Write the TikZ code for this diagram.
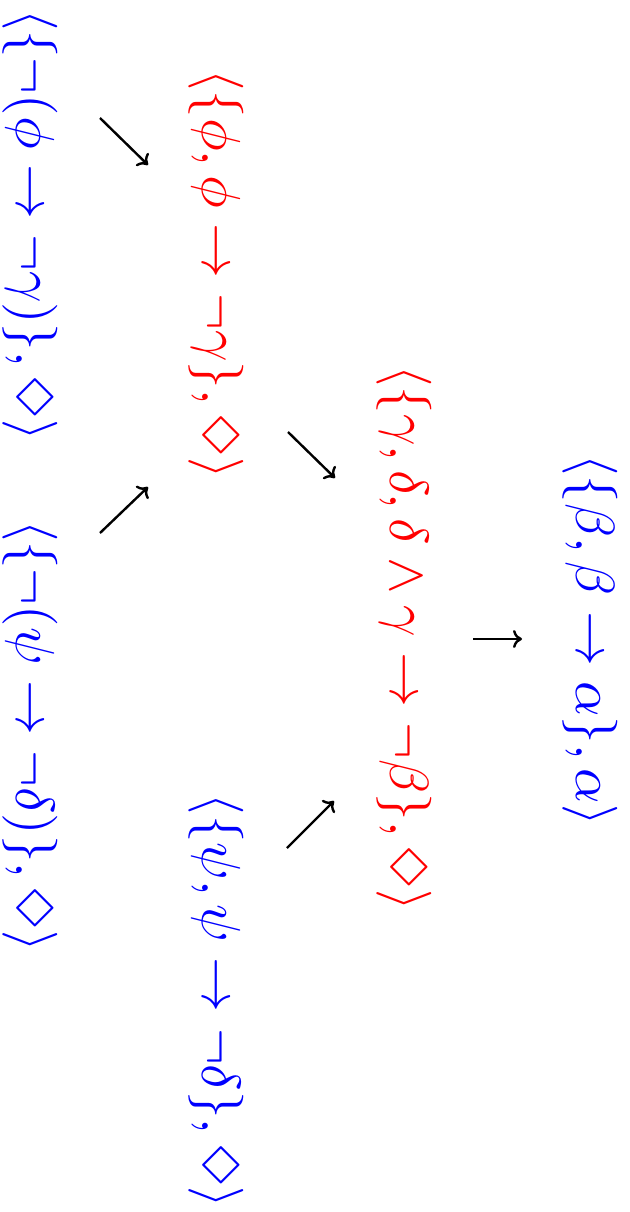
\documentclass[tikz,border=0pt]{standalone}
\usepackage{latexsym}
\usetikzlibrary{arrows.meta}
\begin{document}
\begin{tikzpicture}[x=1pt,y=-1pt,
  formula/.style={rotate=-90,scale=5.5,inner sep=0pt},
  bluef/.style={formula,text=blue},
  redf/.style={formula,text=red},
  conn/.style={line width=2.4pt,-{To[length=9pt,width=18pt]}}]
\path[use as bounding box] (0,0) rectangle (629,1212);
\node[bluef] (n1) at (30,225) {$\langle\{\neg(\phi \rightarrow \neg\gamma)\}, \Diamond\rangle$};
\node[bluef] (n2) at (30,736) {$\langle\{\neg(\psi \rightarrow \neg\delta)\}, \Diamond\rangle$};
\node[redf] (n3) at (216,274) {$\langle\{\phi, \phi \rightarrow \neg\gamma\}, \Diamond\rangle$};
\node[bluef] (n4) at (216,1001) {$\langle\{\psi, \psi \rightarrow \neg\delta\}, \Diamond\rangle$};
\node[redf] (n5) at (404,638) {$\langle\{\gamma, \delta, \delta \wedge \gamma \rightarrow \neg\beta\}, \Diamond\rangle$};
\node[bluef] (n6) at (590,640) {$\langle\{\beta, \beta \rightarrow \alpha\}, \alpha\rangle$};
\coordinate (a1s) at (100,118); \coordinate (a1e) at (148,165);
\coordinate (a2s) at (100,533); \coordinate (a2e) at (148,487);
\coordinate (a3s) at (288,432); \coordinate (a3e) at (335,478);
\coordinate (a4s) at (287,848); \coordinate (a4e) at (334,801);
\coordinate (a5s) at (473,639); \coordinate (a5e) at (522,639);
\draw[conn] (a1s) -- (a1e);
\draw[conn] (a2s) -- (a2e);
\draw[conn] (a3s) -- (a3e);
\draw[conn] (a4s) -- (a4e);
\draw[conn] (a5s) -- (a5e);
\end{tikzpicture}
\end{document}
